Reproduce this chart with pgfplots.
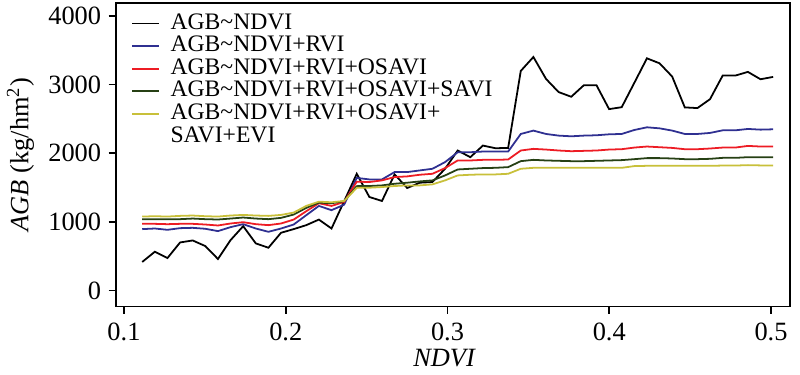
\documentclass[border=0pt]{standalone}
\usepackage{fontspec}
\setmainfont{Liberation Serif}
\usepackage{pgfplots}
\usepackage{pgfplotstable}
\pgfplotsset{compat=1.18}
\definecolor{cblue}{RGB}{47,48,145}
\definecolor{cred}{RGB}{237,28,36}
\definecolor{cgreen}{RGB}{38,64,20}
\definecolor{cyellow}{RGB}{200,192,58}
\pgfplotstableread{
x a b c d e
0.1113 416 894 971 1039 1077
0.1191 565 903 971 1039 1082
0.1269 473 884 966 1039 1077
0.1347 700 908 971 1039 1087
0.1425 729 913 971 1048 1092
0.1503 647 899 961 1039 1082
0.1581 459 865 947 1034 1077
0.1659 734 923 976 1048 1092
0.1737 937 966 995 1063 1101
0.1815 686 903 966 1048 1092
0.1893 623 855 952 1039 1087
0.1971 841 903 976 1058 1101
0.2049 894 961 1033 1106 1135
0.2127 952 1097 1155 1203 1232
0.2205 1033 1232 1271 1280 1294
0.2283 903 1170 1232 1271 1285
0.2361 1300 1250 1290 1300 1304
0.2439 1700 1640 1585 1520 1495
0.2517 1362 1618 1580 1522 1497
0.2595 1304 1618 1604 1531 1507
0.2673 1691 1725 1652 1555 1522
0.2751 1493 1725 1662 1570 1531
0.2829 1570 1749 1686 1589 1531
0.2907 1580 1773 1700 1604 1546
0.2985 1773 1870 1783 1676 1604
0.3063 2039 2014 1894 1763 1676
0.3141 1942 2014 1894 1773 1686
0.3219 2111 2024 1903 1783 1691
0.3297 2072 2024 1903 1787 1691
0.3375 2077 2024 1908 1797 1700
0.3453 3198 2280 2039 1884 1773
0.3531 3401 2329 2063 1903 1787
0.3609 3082 2280 2053 1894 1787
0.3687 2890 2256 2039 1889 1787
0.3765 2822 2246 2029 1884 1787
0.3843 2990 2256 2034 1884 1787
0.3921 2990 2261 2039 1889 1787
0.3999 2642 2275 2053 1894 1787
0.4077 2670 2280 2058 1899 1787
0.4155 3025 2338 2082 1913 1812
0.4233 3382 2377 2097 1928 1816
0.4311 3309 2362 2087 1928 1816
0.4389 3116 2329 2077 1923 1816
0.4467 2667 2280 2058 1913 1816
0.4545 2657 2280 2058 1913 1816
0.4623 2787 2295 2068 1918 1816
0.4701 3130 2333 2082 1932 1820
0.4779 3130 2333 2082 1932 1820
0.4857 3184 2353 2106 1942 1826
0.4935 3077 2343 2097 1942 1822
0.5013 3111 2348 2097 1942 1820
}\datatable
\begin{document}
\begin{tikzpicture}
\begin{axis}[
  scale only axis,
  width=322pt, height=145pt,
  xmin=0.0951, xmax=0.5117,
  ymin=-232, ymax=4188,
  xtick={0.1,0.2,0.3,0.4,0.5},
  ytick={0,1000,2000,3000,4000},
  xtick pos=bottom, ytick pos=left,
  tick align=outside,
  major tick length=3.6pt,
  every tick/.style={black, line width=0.75pt},
  axis line style={line width=0.75pt},
  x tick label style={/pgf/number format/fixed, /pgf/number format/fixed zerofill, /pgf/number format/precision=1, yshift=-1pt},
  /pgf/number format/assume math mode=true,
  /pgf/number format/1000 sep={},
  tick label style={font=\fontsize{12.6}{14}\selectfont},
  xlabel={\textit{NDVI}},
  ylabel={\textit{AGB} (kg/hm\textsuperscript{2})},
  label style={font=\fontsize{12.6}{14}\selectfont},
  xlabel style={yshift=3pt, xshift=-4pt},
  legend style={at={(0.013,0.985)}, anchor=north west, draw=none, fill=none,
    font=\fontsize{11.3}{12}\selectfont, row sep=0pt,
    nodes={inner sep=0.5pt, text height=7.6pt, text depth=2.2pt},
    column sep=4.5pt},
  legend cell align=left,
  legend image code/.code={\draw[#1, line width=0.85pt] (0cm,0cm) -- (0.45cm,0cm);},
  every axis plot/.append style={line width=0.85pt},
]
\addplot[black, no marks] table[x=x, y=a] {\datatable};
\addplot[cblue, no marks] table[x=x, y=b] {\datatable};
\addplot[cred, no marks] table[x=x, y=c] {\datatable};
\addplot[cgreen, no marks] table[x=x, y=d] {\datatable};
\addplot[cyellow, no marks] table[x=x, y=e] {\datatable};
\addlegendimage{empty legend}
\legend{AGB\textasciitilde NDVI, AGB\textasciitilde NDVI+RVI, AGB\textasciitilde NDVI+RVI+OSAVI, AGB\textasciitilde NDVI+RVI+OSAVI+SAVI, AGB\textasciitilde NDVI+RVI+OSAVI+, SAVI+EVI}
\end{axis}
\path (current axis.east) -- ++(4.8pt,0);
\end{tikzpicture}
\end{document}
